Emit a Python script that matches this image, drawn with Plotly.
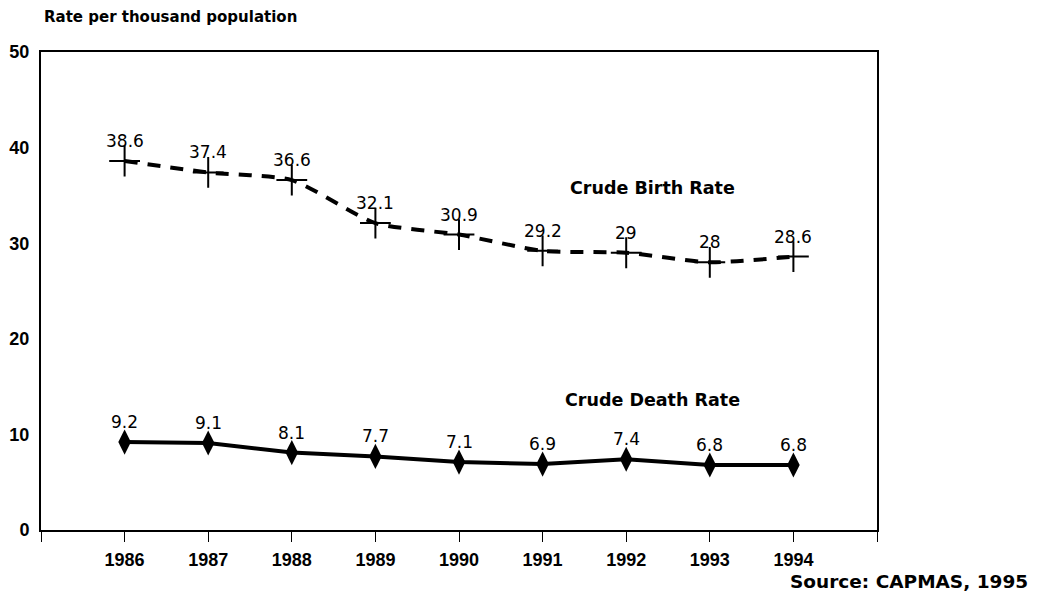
import plotly.graph_objects as go

years = [1986, 1987, 1988, 1989, 1990, 1991, 1992, 1993, 1994]
birth_rate = [38.6, 37.4, 36.6, 32.1, 30.9, 29.2, 29.0, 28.0, 28.6]
death_rate = [9.2, 9.1, 8.1, 7.7, 7.1, 6.9, 7.4, 6.8, 6.8]
birth_labels = ["38.6", "37.4", "36.6", "32.1", "30.9", "29.2", "29", "28", "28.6"]
death_labels = ["9.2", "9.1", "8.1", "7.7", "7.1", "6.9", "7.4", "6.8", "6.8"]
y_ticks = [0, 10, 20, 30, 40, 50]

TICKFONT = "Liberation Sans, Arial, sans-serif"
WIDEFONT = "DejaVu Sans, Verdana, sans-serif"

fig = go.Figure()
fig.add_trace(go.Scatter(
    x=years, y=birth_rate, mode="lines+markers",
    line=dict(color="black", width=4, dash="13px,10px", shape="spline", smoothing=0.6),
    marker=dict(symbol="cross-thin", size=22, line=dict(color="black", width=2)),
    showlegend=False,
))
fig.add_trace(go.Scatter(
    x=years, y=death_rate, mode="lines+markers",
    line=dict(color="black", width=4),
    marker=dict(symbol="diamond-tall", size=18, color="black"),
    showlegend=False,
))

for xv, yv, t in zip(years, birth_rate, birth_labels):
    fig.add_annotation(x=xv, y=yv, text=t, showarrow=False, yshift=20,
                       font=dict(family=WIDEFONT, size=17, color="black"))
for xv, yv, t in zip(years, death_rate, death_labels):
    fig.add_annotation(x=xv, y=yv, text=t, showarrow=False, yshift=20,
                       font=dict(family=WIDEFONT, size=17, color="black"))

fig.add_annotation(x=1992.32, y=35.8, text="Crude Birth Rate", showarrow=False,
                   font=dict(family=WIDEFONT, size=17.5, color="black", weight="bold"))
fig.add_annotation(x=1992.32, y=13.6, text="Crude Death Rate", showarrow=False,
                   font=dict(family=WIDEFONT, size=17.5, color="black", weight="bold"))
fig.add_annotation(xref="paper", yref="paper", x=0.0, y=1.0, xshift=1, yshift=35,
                   xanchor="left", yanchor="middle",
                   text="Rate per thousand population", showarrow=False,
                   font=dict(family=WIDEFONT, size=15, color="black", weight="bold"))
fig.add_annotation(xref="paper", yref="paper", x=1.0, xshift=153, y=0, yshift=-51,
                   xanchor="right", yanchor="middle", text="Source: CAPMAS, 1995",
                   showarrow=False,
                   font=dict(family=WIDEFONT, size=18.5, color="black", weight="bold"))

fig.update_xaxes(
    range=[1985, 1995], tickmode="array", tickvals=list(range(1985, 1996)),
    ticktext=[""] + [str(y) for y in years] + [""],
    ticks="outside", ticklen=10, tickwidth=1.2, tickcolor="black",
    ticklabelstandoff=2, automargin=False,
    showline=True, linecolor="black", linewidth=2, mirror=True,
    showgrid=False, zeroline=False,
    tickfont=dict(family=TICKFONT, size=18, color="black", weight="bold"),
)
fig.update_yaxes(
    range=[0, 50], tickmode="array", tickvals=y_ticks,
    ticks="", ticklabelstandoff=6, automargin=False,
    showline=True, linecolor="black", linewidth=2, mirror=True,
    showgrid=False, zeroline=False,
    tickfont=dict(family=TICKFONT, size=18, color="black", weight="bold"),
)
fig.update_layout(
    width=1040, height=589,
    margin=dict(l=33, r=171, t=44, b=67),
    plot_bgcolor="white", paper_bgcolor="white",
)
fig.write_html("out.html")
